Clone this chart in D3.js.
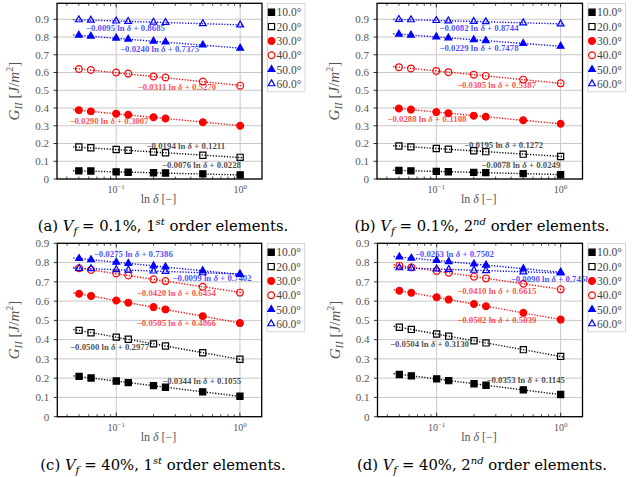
<!DOCTYPE html>
<html>
<head>
<meta charset="utf-8">
<script src="https://cdn.jsdelivr.net/npm/d3@7"></script>
<style>
  body { margin: 0; background: #fff; }
  svg { display: block; }
</style>
</head>
<body>
<script>
// angles of the six series and the delta values (log x axis)
const angles = ["10.0°", "20.0°", "30.0°", "40.0°", "50.0°", "60.0°"];
const deltas = [0.05, 0.0625, 0.1, 0.125, 0.2, 0.25, 0.5, 1.0];

// G_II, one row per angle
const valuesA = [
  [0.046, 0.045, 0.040, 0.038, 0.035, 0.034, 0.029, 0.023],
  [0.180, 0.176, 0.166, 0.162, 0.152, 0.148, 0.134, 0.122],
  [0.388, 0.381, 0.368, 0.362, 0.348, 0.341, 0.320, 0.300],
  [0.620, 0.614, 0.600, 0.594, 0.578, 0.572, 0.549, 0.526],
  [0.810, 0.805, 0.794, 0.788, 0.777, 0.772, 0.755, 0.737],
  [0.897, 0.895, 0.890, 0.888, 0.884, 0.882, 0.875, 0.868]
];
const valuesB = [
  [0.048, 0.046, 0.043, 0.041, 0.037, 0.036, 0.030, 0.025],
  [0.186, 0.181, 0.172, 0.168, 0.159, 0.154, 0.140, 0.127],
  [0.397, 0.391, 0.377, 0.371, 0.357, 0.351, 0.331, 0.311],
  [0.630, 0.623, 0.609, 0.602, 0.588, 0.581, 0.560, 0.539],
  [0.816, 0.811, 0.801, 0.795, 0.785, 0.780, 0.764, 0.748],
  [0.899, 0.897, 0.893, 0.891, 0.888, 0.886, 0.880, 0.874]
];
const valuesC = [
  [0.209, 0.201, 0.185, 0.177, 0.161, 0.153, 0.129, 0.106],
  [0.448, 0.436, 0.413, 0.402, 0.378, 0.367, 0.332, 0.298],
  [0.638, 0.627, 0.603, 0.592, 0.569, 0.557, 0.522, 0.486],
  [0.771, 0.762, 0.743, 0.733, 0.713, 0.704, 0.674, 0.644],
  [0.821, 0.815, 0.802, 0.796, 0.783, 0.777, 0.758, 0.739],
  [0.770, 0.768, 0.763, 0.761, 0.756, 0.754, 0.747, 0.740]
];
const valuesD = [
  [0.219, 0.212, 0.196, 0.187, 0.171, 0.163, 0.139, 0.115],
  [0.464, 0.453, 0.429, 0.418, 0.394, 0.383, 0.348, 0.313],
  [0.654, 0.643, 0.620, 0.608, 0.585, 0.573, 0.539, 0.504],
  [0.784, 0.775, 0.756, 0.747, 0.727, 0.718, 0.690, 0.661],
  [0.829, 0.823, 0.811, 0.805, 0.793, 0.787, 0.768, 0.750],
  [0.773, 0.771, 0.767, 0.764, 0.760, 0.758, 0.752, 0.746]
];

// fitted lines G = a ln(delta) + b
const slopesA = [-0.0076, -0.0194, -0.0290, -0.0311, -0.0240, -0.0095];
const interceptsA = [0.0228, 0.1211, 0.3007, 0.5270, 0.7375, 0.8685];
const slopesB = [-0.0078, -0.0195, -0.0288, -0.0305, -0.0229, -0.0082];
const interceptsB = [0.0249, 0.1272, 0.3108, 0.5387, 0.7478, 0.8744];
const slopesC = [-0.0344, -0.0500, -0.0505, -0.0420, -0.0275, -0.0099];
const interceptsC = [0.1055, 0.2977, 0.4866, 0.6454, 0.7386, 0.7402];
const slopesD = [-0.0353, -0.0504, -0.0502, -0.0410, -0.0263, -0.0090];
const interceptsD = [0.1145, 0.3130, 0.5039, 0.6615, 0.7502, 0.7458];

// where each fit label sits, in data coords [delta, G]
const labelPosA = [[0.234, 0.079], [0.176, 0.186], [0.042, 0.328], [0.149, 0.517], [0.1076, 0.734], [0.057, 0.852]];
const labelPosB = [[0.230, 0.077], [0.167, 0.193], [0.0404, 0.338], [0.1466, 0.528], [0.106, 0.740], [0.106, 0.852]];
const labelPosC = [[0.235, 0.185], [0.0423, 0.363], [0.1466, 0.488], [0.1466, 0.641], [0.0657, 0.843], [0.285, 0.722]];
const labelPosD = [[0.252, 0.190], [0.042, 0.376], [0.1466, 0.502], [0.1466, 0.653], [0.0666, 0.843], [0.395, 0.713]];

const yTicks = [0, 0.1, 0.2, 0.3, 0.4, 0.5, 0.6, 0.7, 0.8, 0.9];
const xTicks = [0.1, 1];

const colors = ["#000", "#000", "#f00", "#f00", "#00f", "#00f"];
const symbols = [d3.symbolSquare, d3.symbolSquare, d3.symbolCircle, d3.symbolCircle, d3.symbolTriangle, d3.symbolTriangle];
const symSizes = [38, 38, 36, 36, 20, 20];
const filled = [true, false, true, false, true, false];

const svg = d3.select("body").append("svg")
  .attr("width", 633)
  .attr("height", 477);
svg.append("rect").attr("width", 633).attr("height", 477).attr("fill", "#fff");

const serif = "'Liberation Serif', 'DejaVu Serif', serif";
const capSerif = "'DejaVu Serif', serif";

function drawPanel(p) {
  const g = svg.append("g");
  const x = d3.scaleLog().domain([1 / 30, 1.5]).range([p.left, p.right]);
  const y = d3.scaleLinear().domain([0, p.yMax]).range([p.bottom, p.top]);

  // grid
  g.selectAll(".gy").data(yTicks).enter().append("line")
    .attr("x1", p.left).attr("x2", p.right)
    .attr("y1", d => y(d)).attr("y2", d => y(d))
    .attr("stroke", "#c8c8c8").attr("stroke-width", 1);
  g.selectAll(".gx").data(xTicks).enter().append("line")
    .attr("x1", d => x(d)).attr("x2", d => x(d))
    .attr("y1", p.top).attr("y2", p.bottom)
    .attr("stroke", "#c8c8c8").attr("stroke-width", 1);

  // minor ticks on log axis (inside, top and bottom)
  const minor = [];
  [0.01, 0.1, 1].forEach(dec => {
    for (let k = 2; k <= 9; k++) {
      const v = dec * k;
      if (v > 1 / 30 && v < 1.5) minor.push(v);
    }
  });
  minor.forEach(v => {
    g.append("line").attr("x1", x(v)).attr("x2", x(v))
      .attr("y1", p.bottom).attr("y2", p.bottom - 2.5)
      .attr("stroke", "#000").attr("stroke-width", 0.7);
    g.append("line").attr("x1", x(v)).attr("x2", x(v))
      .attr("y1", p.top).attr("y2", p.top + 2.5)
      .attr("stroke", "#000").attr("stroke-width", 0.7);
  });
  xTicks.forEach(v => {
    g.append("line").attr("x1", x(v)).attr("x2", x(v))
      .attr("y1", p.bottom).attr("y2", p.bottom - 4)
      .attr("stroke", "#000").attr("stroke-width", 0.8);
    g.append("line").attr("x1", x(v)).attr("x2", x(v))
      .attr("y1", p.top).attr("y2", p.top + 4)
      .attr("stroke", "#000").attr("stroke-width", 0.8);
  });
  // y ticks outward
  yTicks.forEach(v => {
    g.append("line").attr("x1", p.left - 3.5).attr("x2", p.left)
      .attr("y1", y(v)).attr("y2", y(v))
      .attr("stroke", "#000").attr("stroke-width", 0.8);
    g.append("text").attr("x", p.left - 8).attr("y", y(v))
      .attr("dy", "0.35em").attr("text-anchor", "end")
      .attr("font-family", serif).attr("font-size", 11).attr("fill", "#555")
      .text(v === 0 ? "0" : d3.format(".1f")(v));
  });
  // x tick labels
  xTicks.forEach(v => {
    const t = g.append("text").attr("x", x(v)).attr("y", p.bottom + 14)
      .attr("text-anchor", "middle")
      .attr("font-family", serif).attr("font-size", 10).attr("fill", "#555");
    t.append("tspan").text("10");
    t.append("tspan").attr("dy", -4).attr("font-size", 7)
      .text(v === 1 ? "0" : "\u22121");
  });

  // fit lines and points
  angles.forEach((a, i) => {
    const x0 = 0.045, x1 = 1.05;
    g.append("line")
      .attr("x1", x(x0)).attr("y1", y(p.slopes[i] * Math.log(x0) + p.intercepts[i]))
      .attr("x2", x(x1)).attr("y2", y(p.slopes[i] * Math.log(x1) + p.intercepts[i]))
      .attr("stroke", colors[i]).attr("stroke-width", 1.4)
      .attr("stroke-dasharray", "1.2,1.6");
    g.selectAll(".m" + i).data(p.values[i]).enter().append("path")
      .attr("d", d3.symbol().type(symbols[i]).size(symSizes[i]))
      .attr("transform", (d, j) => `translate(${x(deltas[j])},${y(d)})`)
      .attr("fill", filled[i] ? colors[i] : "none")
      .attr("stroke", colors[i]).attr("stroke-width", 1.2);
  });

  // fit labels
  angles.forEach((a, i) => {
    const s = p.slopes[i], b = p.intercepts[i];
    const t = g.append("text")
      .attr("x", x(p.labelPos[i][0])).attr("y", y(p.labelPos[i][1]))
      .attr("dy", "0.35em")
      .attr("font-family", serif).attr("font-size", 8.8).attr("font-weight", "bold")
      .attr("fill", colors[i]).attr("fill-opacity", 0.72);
    t.append("tspan").text((s < 0 ? "\u2212" : "") + Math.abs(s).toFixed(4) + " ln ");
    t.append("tspan").attr("font-style", "italic").text("\u03b4");
    t.append("tspan").text(" + " + b.toFixed(4));
  });

  // frame
  g.append("rect").attr("x", p.left).attr("y", p.top)
    .attr("width", p.right - p.left).attr("height", p.bottom - p.top)
    .attr("fill", "none").attr("stroke", "#000").attr("stroke-width", 1.3);

  // axis labels
  const xl = g.append("text").attr("x", (p.left + p.right) / 2 - 1).attr("y", p.bottom + 24)
    .attr("text-anchor", "middle").attr("font-family", serif)
    .attr("font-size", 12).attr("fill", "#555");
  xl.append("tspan").text("ln ");
  xl.append("tspan").attr("font-style", "italic").text("\u03b4");
  xl.append("tspan").text(" [\u2212]");

  const cy = (p.top + p.bottom) / 2;
  const yl = g.append("text")
    .attr("transform", `translate(${p.left - 38},${cy}) rotate(-90)`)
    .attr("text-anchor", "middle").attr("font-family", serif)
    .attr("font-size", 15).attr("fill", "#555");
  yl.append("tspan").attr("font-style", "italic").text("G");
  yl.append("tspan").attr("font-style", "italic").attr("font-size", 11).attr("dy", 3).text("II");
  yl.append("tspan").attr("dy", -3).text(" [");
  yl.append("tspan").attr("font-style", "italic").text("J");
  yl.append("tspan").text("/");
  yl.append("tspan").attr("font-style", "italic").text("m");
  yl.append("tspan").attr("font-size", 10).attr("dy", -6).text("2");
  yl.append("tspan").attr("dy", 6).text("]");

  // legend
  const lx = p.right + 5.5, ly = p.top;
  const lg = g.append("g");
  lg.append("rect").attr("x", lx).attr("y", ly).attr("width", 37.5).attr("height", 88.5)
    .attr("fill", "#fff").attr("stroke", "#ccc").attr("stroke-width", 0.8);
  angles.forEach((a, i) => {
    const yy = ly + 9 + i * 14.3;
    lg.append("path")
      .attr("d", d3.symbol().type(symbols[i]).size(symSizes[i]))
      .attr("transform", `translate(${lx + 4},${yy})`)
      .attr("fill", filled[i] ? colors[i] : "none")
      .attr("stroke", colors[i]).attr("stroke-width", 1.2);
    lg.append("text").attr("x", lx + 9).attr("y", yy).attr("dy", "0.35em")
      .attr("font-family", serif).attr("font-size", 11.5).attr("fill", "#444")
      .text(a);
  });

  // caption
  const cap = svg.append("text").attr("x", p.capX).attr("y", p.capY)
    .attr("text-anchor", "middle").attr("font-family", capSerif)
    .attr("font-size", 14.8).attr("fill", "#000");
  cap.append("tspan").text("(" + p.tag + ") ");
  cap.append("tspan").attr("font-style", "italic").text("V");
  cap.append("tspan").attr("font-style", "italic").attr("font-size", 10.5).attr("dy", 4).text("f");
  cap.append("tspan").attr("dy", -4).text(" = " + p.vf + ", " + p.order);
  cap.append("tspan").attr("font-style", "italic").attr("font-size", 10).attr("dy", -6).text(p.ordSup);
  cap.append("tspan").attr("dy", 6).text(" order elements.");
}

drawPanel({ tag: "a", vf: "0.1%", order: "1", ordSup: "st", left: 57, right: 262, top: 3.3, bottom: 179, yMax: 0.99,
  values: valuesA, slopes: slopesA, intercepts: interceptsA, labelPos: labelPosA, capX: 163, capY: 231 });
drawPanel({ tag: "b", vf: "0.1%", order: "2", ordSup: "nd", left: 377, right: 582.5, top: 3.3, bottom: 179, yMax: 0.99,
  values: valuesB, slopes: slopesB, intercepts: interceptsB, labelPos: labelPosB, capX: 482, capY: 231 });
drawPanel({ tag: "c", vf: "40%", order: "1", ordSup: "st", left: 57.3, right: 261.7, top: 243.3, bottom: 416.7, yMax: 0.9,
  values: valuesC, slopes: slopesC, intercepts: interceptsC, labelPos: labelPosC, capX: 163, capY: 470 });
drawPanel({ tag: "d", vf: "40%", order: "2", ordSup: "nd", left: 377.5, right: 582.5, top: 243.3, bottom: 416.7, yMax: 0.9,
  values: valuesD, slopes: slopesD, intercepts: interceptsD, labelPos: labelPosD, capX: 482, capY: 470 });
</script>
</body>
</html>
